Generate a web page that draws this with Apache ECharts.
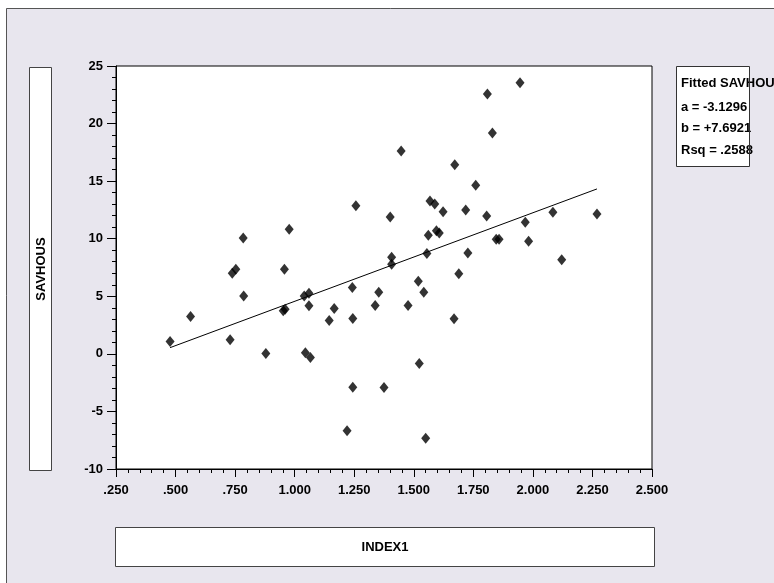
<!DOCTYPE html>
<html>
<head>
<meta charset="utf-8">
<script src="https://cdn.jsdelivr.net/npm/echarts@6/dist/echarts.min.js"></script>
<style>
  html, body { margin: 0; padding: 0; background: #fff; }
  #chart { width: 774px; height: 583px; }
</style>
</head>
<body>
<div id="chart"></div>
<script>
// ---- data ----
const xTitle = 'INDEX1';
const yTitle = 'SAVHOUS';
const index1 = [
  0.477, 0.563, 0.729, 0.738, 0.753, 0.784, 0.786, 0.879, 0.957, 0.952,
  0.960, 0.977, 1.040, 1.060, 1.060, 1.045, 1.066, 1.145, 1.166, 1.220,
  1.242, 1.244, 1.244, 1.257, 1.338, 1.353, 1.375, 1.401, 1.407, 1.407,
  1.447, 1.476, 1.519, 1.523, 1.542, 1.550, 1.555, 1.561, 1.568, 1.588,
  1.595, 1.607, 1.623, 1.669, 1.672, 1.689, 1.718, 1.727, 1.760, 1.806,
  1.809, 1.830, 1.846, 1.858, 1.946, 1.968, 1.982, 2.084, 2.121, 2.269
];
const savhous = [
  1.07, 3.24, 1.22, 7.00, 7.35, 10.07, 5.03, 0.03, 7.35, 3.75,
  3.88, 10.82, 5.03, 5.27, 4.17, 0.09, -0.32, 2.89, 3.95, -6.68,
  5.76, 3.06, -2.89, 12.87, 4.19, 5.36, -2.93, 11.89, 8.38, 7.79,
  17.62, 4.19, 6.31, -0.84, 5.34, -7.32, 8.72, 10.30, 13.28, 13.02,
  10.70, 10.50, 12.35, 3.04, 16.43, 6.96, 12.50, 8.77, 14.64, 11.98,
  22.57, 19.18, 9.96, 9.96, 23.55, 11.43, 9.78, 12.30, 8.18, 12.15
];
const fitA = -3.1296;
const fitB = 7.6921;
const fitLines = ['Fitted SAVHOUS', 'a = -3.1296', 'b = +7.6921', 'Rsq = .2588'];
const xTicks = { min: 0.25, max: 2.5, step: 0.25 };
const yTicks = { min: -10, max: 25, step: 5 };

// ---- build ----
const pts = index1.map((x, i) => [x, savhous[i]]);
const xLo = Math.min(...index1), xHi = Math.max(...index1);
const fitData = [[xLo, fitA + fitB * xLo], [xHi, fitA + fitB * xHi]];

const FONT = '"Liberation Sans", Arial, sans-serif';
const BG = '#e8e6ee';

function xFmt(v) {
  let s = v.toFixed(3);
  if (s.startsWith('0')) s = s.slice(1);
  return s;
}

const chart = echarts.init(document.getElementById('chart'), null, { renderer: 'canvas' });

const graphics = [
  { type: 'rect', shape: { x: 0, y: 0, width: 774, height: 8 }, style: { fill: '#fff' }, silent: true },
  { type: 'rect', shape: { x: 0, y: 0, width: 6, height: 583 }, style: { fill: '#fff' }, silent: true },
  { type: 'line', shape: { x1: 6.5, y1: 8.5, x2: 774, y2: 8.5 }, style: { stroke: '#555', lineWidth: 1 }, silent: true },
  { type: 'line', shape: { x1: 6.5, y1: 8.5, x2: 6.5, y2: 583 }, style: { stroke: '#555', lineWidth: 1 }, silent: true },
  { type: 'rect', shape: { x: 29.5, y: 67.5, width: 22, height: 403 }, style: { fill: '#fff', stroke: '#444', lineWidth: 1 }, silent: true },
  { type: 'text', x: 41, y: 269, rotation: Math.PI / 2,
    style: { text: yTitle, x: 0, y: 0, textAlign: 'center', textVerticalAlign: 'middle', verticalAlign: 'middle',
             font: 'bold 13px ' + FONT, fill: '#000' }, silent: true },
  { type: 'rect', shape: { x: 115.5, y: 527.5, width: 539, height: 39 }, style: { fill: '#fff', stroke: '#444', lineWidth: 1 }, silent: true },
  { type: 'text', x: 385, y: 547,
    style: { text: xTitle, x: 0, y: 0, textAlign: 'center', textVerticalAlign: 'middle', verticalAlign: 'middle',
             font: 'bold 13px ' + FONT, fill: '#000' }, silent: true },
  { type: 'rect', shape: { x: 676.5, y: 66.5, width: 73, height: 100 }, style: { fill: '#fff' }, silent: true, z: 10 }
];
const lineYs = [83, 107, 128.5, 150];
fitLines.forEach((t, i) => {
  graphics.push({ type: 'text', x: 681, y: lineYs[i], z: 11,
    style: { text: t, x: 0, y: 0, textAlign: 'left', textVerticalAlign: 'middle', verticalAlign: 'middle',
             font: 'bold 13px ' + FONT, fill: '#000' }, silent: true });
});
graphics.push({ type: 'rect', shape: { x: 676.5, y: 66.5, width: 73, height: 100 }, style: { fill: null, stroke: '#333', lineWidth: 1 }, silent: true, z: 12 });

chart.setOption({
  animation: false,
  backgroundColor: BG,
  grid: { left: 116, top: 66, right: 122, bottom: 114, show: true, backgroundColor: '#fff', borderColor: '#000', borderWidth: 1 },
  xAxis: {
    type: 'value', min: xTicks.min, max: xTicks.max, interval: xTicks.step,
    axisLine: { show: true, onZero: false, lineStyle: { color: '#000', width: 1 } },
    axisTick: { show: true, inside: false, length: 8, lineStyle: { color: '#000' } },
    minorTick: { show: true, splitNumber: 5, length: 4, lineStyle: { color: '#000' } },
    splitLine: { show: false },
    axisLabel: { formatter: xFmt, color: '#000', fontFamily: FONT, fontWeight: 'bold', fontSize: 13, margin: 15, showMinLabel: true, showMaxLabel: true }
  },
  yAxis: {
    type: 'value', min: yTicks.min, max: yTicks.max, interval: yTicks.step,
    axisLine: { show: true, onZero: false, lineStyle: { color: '#000', width: 1 } },
    axisTick: { show: true, inside: false, length: 9, lineStyle: { color: '#000' } },
    minorTick: { show: true, splitNumber: 5, length: 4, lineStyle: { color: '#000' } },
    splitLine: { show: false },
    axisLabel: { color: '#000', fontFamily: FONT, fontWeight: 'bold', fontSize: 13, margin: 13 }
  },
  series: [
    { type: 'line', data: fitData, symbol: 'none', lineStyle: { color: '#000', width: 1 }, z: 2, silent: true },
    { type: 'scatter', data: pts, symbol: 'diamond', symbolSize: [9, 11], itemStyle: { color: '#000' }, z: 3, silent: true }
  ],
  graphic: graphics
});
</script>
</body>
</html>
